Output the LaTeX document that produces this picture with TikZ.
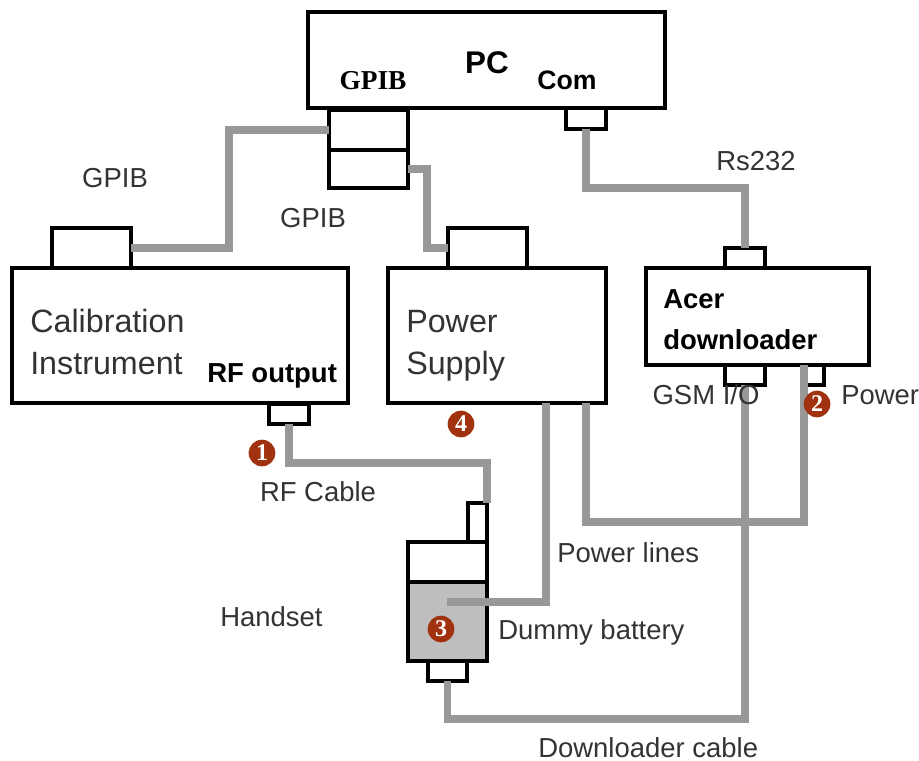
\documentclass[tikz,border=0pt]{standalone}
\usepackage{fontspec}
\setmainfont{Liberation Sans}
\newfontfamily\serifbold{Liberation Serif}
\usepackage{tikz}
\definecolor{cablegray}{RGB}{152,152,152}
\definecolor{batterygray}{RGB}{190,190,190}
\definecolor{badgered}{RGB}{160,50,15}
\tikzset{
	boxnode/.style={draw,line width=2.5pt,inner sep=0pt,outer sep=0pt,anchor=north west},
	portnode/.style={draw,line width=2.4pt,inner sep=0pt,outer sep=0pt,anchor=north west},
	cable/.style={draw=cablegray,line width=5.5pt},
	txtnode/.style={font=\fontsize{20.6}{20.6}\selectfont,text=black!80,inner sep=0pt},
	bignode/.style={font=\fontsize{24.2}{24.2}\selectfont,text=black!80,inner sep=0pt,anchor=west},
	boldnode/.style={font=\fontsize{20.6}{20.6}\selectfont\bfseries,inner sep=0pt},
	badge/.style={circle,fill=badgered,text=white,inner sep=0pt,minimum size=20pt,font=\fontsize{18}{18}\selectfont\serifbold\bfseries}
}
\begin{document}
\begin{tikzpicture}[x=0.75pt,y=-0.75pt]
	\useasboundingbox (0,0) rectangle (919,760);
	% boxes
	\node[boxnode,minimum width=267.75pt,minimum height=72pt] (pc) at (308,12) {};
	\node[portnode,minimum width=59.25pt,minimum height=30pt] (gpibone) at (329,110) {};
	\node[portnode,minimum width=59.25pt,minimum height=28.5pt] (gpibtwo) at (329,150) {};
	\node[portnode,minimum width=30pt,minimum height=15.75pt] (comport) at (566,108) {};
	\node[portnode,minimum width=59.25pt,minimum height=30pt] (calport) at (52,228) {};
	\node[boxnode,minimum width=252pt,minimum height=101.25pt] (cal) at (12,268) {};
	\node[portnode,minimum width=30pt,minimum height=15pt] (rfport) at (269,404) {};
	\node[portnode,minimum width=59.25pt,minimum height=30pt] (psport) at (448,228) {};
	\node[boxnode,minimum width=163.5pt,minimum height=101.25pt] (ps) at (388,268) {};
	\node[portnode,minimum width=30pt,minimum height=15pt] (dlport) at (725,248) {};
	\node[boxnode,minimum width=167.25pt,minimum height=72.75pt] (dl) at (646,268) {};
	\node[portnode,minimum width=30pt,minimum height=15pt] (gsmport) at (725,365) {};
	\node[portnode,minimum width=15pt,minimum height=15pt] (pwrport) at (804,365) {};
	\node[portnode,minimum width=14.25pt,minimum height=29.25pt] (antenna) at (468,503) {};
	\node[boxnode,minimum width=59.25pt,minimum height=30pt] (handset) at (408,542) {};
	\node[boxnode,line width=3pt,fill=batterygray,minimum width=59.25pt,minimum height=59.25pt] (battery) at (408,582) {};
	\node[portnode,minimum width=29.25pt,minimum height=15pt] (hsport) at (428,661) {};
	% cables
	\coordinate (inbat) at (447,602);
	\coordinate (psout) at (546,403);
	\coordinate (psdl) at (586,403);
	\draw[cable] (gpibone.west) -| (229,248) -- (calport.east);
	\draw[cable] (gpibtwo.east) -| (427,248) -- (psport.west);
	\draw[cable] (comport.south) |- (dlport.north |- 0,188) -- (dlport.north);
	\draw[cable] (rfport.south) |- (antenna.north east |- 0,463) -- (antenna.north east);
	\draw[cable] (psout) |- (inbat);
	\draw[cable] (psdl) |- (pwrport.north west |- 0,522) -- (pwrport.north west);
	\draw[cable] (gsmport.south) -- (gsmport.south |- 0,719) -| (hsport.south);
	% labels
	\node[txtnode] (lgpiba) at (115,178) {GPIB};
	\node[txtnode] (lgpibb) at (313,218) {GPIB};
	\node[txtnode] (lrs) at (756,161) {Rs232};
	\node[bignode] (lcal) at (30,321) {Calibration};
	\node[bignode] (linst) at (30,364) {Instrument};
	\node[bignode] (lpower) at (406,322) {Power};
	\node[bignode] (lsupply) at (406,366) {Supply};
	\node[txtnode] (lgsm) at (706,395) {GSM I/O};
	\node[txtnode,anchor=west] (lpwr) at (841,395) {Power};
	\node[txtnode] (lrfc) at (318,492) {RF Cable};
	\node[txtnode,anchor=west] (llines) at (557,553) {Power lines};
	\node[txtnode,anchor=west] (ldummy) at (498,632) {Dummy battery};
	\node[txtnode,anchor=west] (lhand) at (220,617) {Handset};
	\node[txtnode,anchor=west] (ldown) at (538,748) {Downloader cable};
	\node[boldnode,font=\fontsize{20.5}{20.5}\selectfont\serifbold\bfseries] (lgpibc) at (373,81) {GPIB};
	\node[boldnode,font=\fontsize{23.5}{23.5}\selectfont\bfseries] (lpc) at (487,63) {PC};
	\node[boldnode,font=\fontsize{20}{20}\selectfont\bfseries] (lcom) at (567,80) {Com};
	\node[boldnode,anchor=west] (lrf) at (207,376) {RF output};
	\node[boldnode,anchor=west] (lacer) at (663,299) {Acer};
	\node[boldnode,anchor=west] (ldl) at (663,340) {downloader};
	% numbers
	\node[badge] (bone) at (262,453) {1};
	\node[badge] (btwo) at (817,404) {2};
	\node[badge] (bthree) at (441,629) {3};
	\node[badge] (bfour) at (461,424) {4};
\end{tikzpicture}
\end{document}
